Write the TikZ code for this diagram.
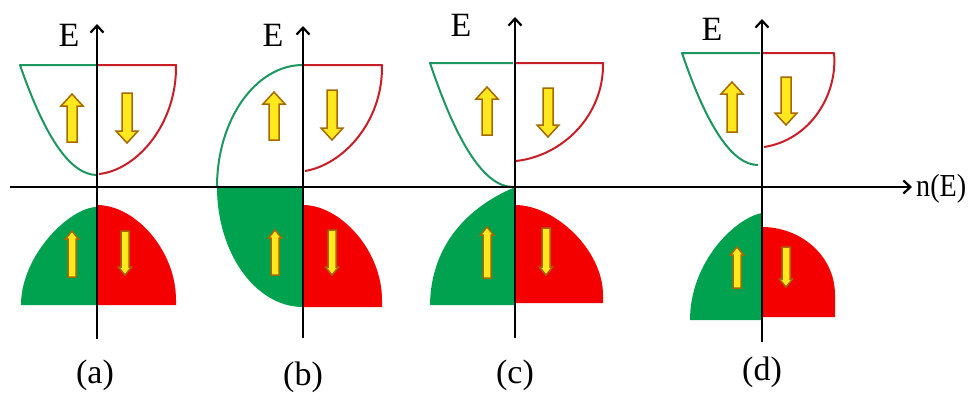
\documentclass[tikz,border=0pt]{standalone}
\usepackage{fontspec}
\setmainfont{Liberation Serif}
\usetikzlibrary{arrows.meta}
\definecolor{gfill}{RGB}{0,162,80}
\definecolor{rfill}{RGB}{245,0,0}
\definecolor{gline}{RGB}{30,150,95}
\definecolor{rline}{RGB}{200,30,40}
\definecolor{yfill}{RGB}{255,232,30}
\definecolor{yline}{RGB}{165,105,0}
\newcommand{\yarr}[6]{%
  \filldraw[yarrow] ({#1-#4},{#3}) -- ({#1-#4},{#2+#6}) -- ({#1-#5},{#2+#6}) -- ({#1},{#2})
   -- ({#1+#5},{#2+#6}) -- ({#1+#4},{#2+#6}) -- ({#1+#4},{#3}) -- cycle;}
\begin{document}
\begin{tikzpicture}[x=1pt,y=-1pt,
  gband/.style={draw=gline,line width=2pt,line join=round},
  rband/.style={draw=rline,line width=2pt,line join=round},
  gfilled/.style={fill=gfill},
  rfilled/.style={fill=rfill},
  yarrow/.style={fill=yfill,draw=yline,line width=1.5pt,line join=miter},
  axis/.style={line width=2.8pt,-{Straight Barb[length=7pt,width=13pt,line width=2.2pt]}},
  lbl/.style={font=\fontsize{34}{38}\selectfont,inner sep=0pt}]
\useasboundingbox (0,0) rectangle (973,399);
\fill[white] (0,0) rectangle (973,399);
% ---------- (a)
\fill[gfilled] (97,207) .. controls (70,207) and (21,255) .. (21,305) -- (97,305) -- cycle;
\fill[rfilled] (97,205) .. controls (135,205) and (176,250) .. (176,300) -- (176,305) -- (97,305) -- cycle;
\draw[gband] (97,65) -- (20,65) .. controls (45.3,138.3) and (70.7,175) .. (97,175);
\draw[rband] (97,65) -- (176,65) .. controls (177,124) and (137,170) .. (99,174);
% ---------- (b)
\fill[gfilled] (217,187) .. controls (217,253) and (255.5,307) .. (303,307) -- (303,187) -- cycle;
\fill[rfilled] (303,205) .. controls (340,205) and (382,250) .. (382,300) -- (382,307) -- (303,307) -- cycle;
\draw[gband] (303,65) .. controls (255.5,65) and (217,119.7) .. (217,187);
\draw[rband] (303,65) -- (382,65) .. controls (383,123) and (342,165) .. (305,171);
% ---------- (c)
\fill[gfilled] (513,188) .. controls (485,200) and (431,232) .. (430,305) -- (515,305) -- (515,188) -- cycle;
\fill[rfilled] (515,205) .. controls (555,205) and (603,250) .. (603,295) -- (603,303) -- (515,303) -- cycle;
\draw[gband] (513,63) -- (430,63) .. controls (457.7,145.7) and (485.3,187) .. (513,187);
\draw[rband] (515,63) -- (603,63) .. controls (604,116) and (562,156) .. (516,161);
% ---------- (d)
\fill[gfilled] (762,213) .. controls (735,218) and (690,262) .. (690,320) -- (762,320) -- cycle;
\fill[rfilled] (762,227) .. controls (800,227) and (835,255) .. (835,295) -- (835,317) -- (762,317) -- cycle;
\draw[gband] (760,53) -- (682,53) .. controls (707.3,127.7) and (732.7,165) .. (758,165);
\draw[rband] (762,53) -- (834,53) .. controls (838,95) and (810,140) .. (764,147);
% ---------- axes
\coordinate (hx0) at (10,187);
\coordinate (hx1) at (912,187);
\draw[axis] (hx0) -- (hx1);
\coordinate (a0) at (97,339);  \coordinate (a1) at (97,24);
\coordinate (b0) at (303,338); \coordinate (b1) at (303,26);
\coordinate (c0) at (515,338); \coordinate (c1) at (515,17);
\coordinate (d0) at (762,342); \coordinate (d1) at (762,19);
\draw[axis] (a0) -- (a1);
\draw[axis] (b0) -- (b1);
\draw[axis] (c0) -- (c1);
\draw[axis] (d0) -- (d1);
% ---------- spin arrows
\yarr{72}{94}{142}{5}{11}{12}
\yarr{127}{143}{93}{5}{11}{-12}
\yarr{72}{231}{277}{4}{6.5}{8}
\yarr{125}{275}{231}{4}{6.5}{-8}
\yarr{274}{92}{140}{5}{11}{12}
\yarr{332}{140}{90}{5}{11}{-12}
\yarr{275}{230}{275}{4}{6.5}{8}
\yarr{332}{275}{230}{4}{6.5}{-8}
\yarr{487}{87}{135}{5}{11}{12}
\yarr{548}{137}{88}{5}{11}{-12}
\yarr{487}{227}{278}{4}{6.5}{8}
\yarr{546}{275}{228}{4}{6.5}{-8}
\yarr{732}{82}{132}{5}{11}{12}
\yarr{786}{125}{77}{5}{11}{-12}
\yarr{737}{247}{288}{4}{6.5}{8}
\yarr{786}{287}{247}{4}{6.5}{-8}
% ---------- labels
\node[lbl] (Ea) at (69,35) {E};
\node[lbl] (Eb) at (273,35) {E};
\node[lbl] (Ec) at (461,25) {E};
\node[lbl] (Ed) at (712,29) {E};
\node[lbl,anchor=west,xscale=0.88,font=\fontsize{32}{36}\selectfont] (nE) at (916,189) {n(E)};
\node[lbl] (la) at (95,375) {(a)};
\node[lbl] (lb) at (303,377) {(b)};
\node[lbl] (lc) at (515,375) {(c)};
\node[lbl] (ld) at (762,372) {(d)};
\end{tikzpicture}
\end{document}
